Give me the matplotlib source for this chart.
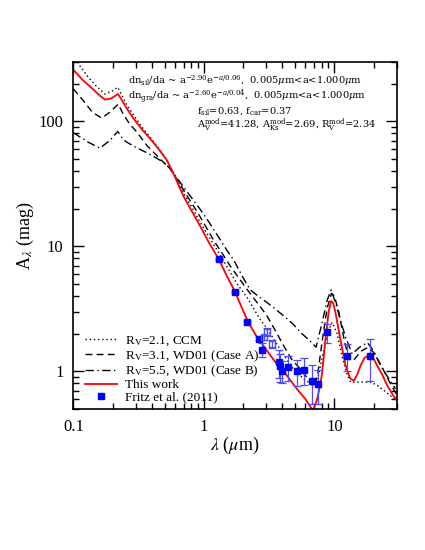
import matplotlib
matplotlib.use('Agg')
import matplotlib.pyplot as plt
from matplotlib.lines import Line2D
import numpy as np

plt.rcParams['font.family'] = ['Liberation Serif', 'DejaVu Serif']
plt.rcParams['mathtext.fontset'] = 'stix'

# This work (red)
lam_red = [0.100, 0.119, 0.142, 0.160, 0.175, 0.195, 0.210, 0.220, 0.235, 0.260, 0.290,
           0.330, 0.390, 0.450, 0.520, 0.600, 0.700, 0.800, 0.940, 1.10, 1.30, 1.50,
           1.74, 2.00, 2.20, 2.50, 3.05, 3.50, 4.09, 4.60, 5.18, 6.00, 6.56, 6.90,
           7.38, 7.80, 8.06, 8.55, 9.06, 9.45, 9.80, 10.2, 11.1, 12.2, 13.2, 14.1,
           15.0, 15.85, 17.0, 18.4, 19.8, 21.3, 23.5, 25.4, 28.0, 30.3]
a_red = [258, 212, 180, 160, 149, 152, 160, 165, 148, 124, 105,
         88, 72, 60, 49, 36, 25, 19.5, 14.4, 10.6, 7.9, 5.8,
         4.3, 3.05, 2.45, 1.95, 1.46, 1.20, 1.00, 0.85, 0.72, 0.60, 0.52, 0.49,
         0.60, 0.78, 0.98, 1.81, 3.04, 3.65, 3.50, 2.95, 1.81, 1.11, 0.88, 0.84,
         0.95, 1.11, 1.28, 1.35, 1.28, 1.11, 0.92, 0.77, 0.65, 0.58]

# Rv=2.1, CCM (dotted)
lam_ccm = [0.100, 0.112, 0.130, 0.151, 0.175, 0.200, 0.219, 0.235, 0.260, 0.290, 0.330,
           0.390, 0.450, 0.520, 0.600, 0.700, 0.800, 0.940, 1.10, 1.30, 1.50, 1.80,
           2.14, 2.40, 2.70, 3.05, 3.50, 4.00, 5.00, 6.00, 6.80, 7.50, 8.20, 9.00,
           9.60, 10.5, 11.5, 12.5, 13.3, 19.0, 21.0, 25.0, 30.0]
a_ccm = [340, 279, 225, 190, 165, 175, 187, 162, 132, 112, 92,
         74, 61, 49, 37, 26.5, 21, 15.5, 11.8, 8.9, 6.9, 5.0,
         3.9, 3.2, 2.6, 2.2, 1.75, 1.40, 1.00, 0.85, 0.78, 0.90, 1.40, 2.10,
         2.46, 2.00, 1.30, 0.95, 0.82, 0.82, 0.78, 0.68, 0.58]

# Rv=3.1, WD01 case A (dashed)
lam_wdA = [0.100, 0.120, 0.140, 0.165, 0.190, 0.221, 0.240, 0.270, 0.307, 0.366, 0.430,
           0.490, 0.550, 0.650, 0.750, 0.900, 1.05, 1.20, 1.40, 1.60, 2.00, 2.34,
           2.70, 3.05, 3.50, 4.09, 4.70, 5.50, 6.56, 6.90, 7.40, 8.10, 8.80, 9.50,
           10.0, 10.8, 12.0, 13.0, 14.0, 16.0, 18.0, 20.0, 23.0, 26.0, 30.0]
a_wdA = [182, 145, 118, 106, 118, 137, 115, 95, 82, 64, 54,
         47, 42, 32, 25, 18.5, 14, 11, 8.6, 6.9, 5.0, 4.0,
         3.3, 2.77, 2.15, 1.60, 1.25, 1.04, 0.82, 0.75, 0.90, 1.80, 3.2, 4.2,
         4.0, 3.0, 1.7, 1.25, 1.22, 1.45, 1.55, 1.42, 1.10, 0.85, 0.65]

# Rv=5.5, WD01 case B (dash-dot)
lam_wdB = [0.100, 0.130, 0.160, 0.190, 0.219, 0.240, 0.257, 0.300, 0.366, 0.430, 0.490,
           0.550, 0.650, 0.750, 0.930, 1.10, 1.30, 1.50, 1.69, 2.00, 2.26, 2.60,
           3.05, 3.60, 4.09, 4.80, 5.50, 6.50, 7.24, 8.06, 8.80, 9.45, 10.4, 11.2,
           12.2, 13.7, 15.5, 17.9, 20.0, 22.6, 26.0, 29.4]
a_wdB = [81, 68, 61, 70, 83, 72, 68, 62, 56, 51, 47,
         42, 33, 27, 20, 15.5, 11.8, 9.3, 7.8, 5.6, 4.5, 4.0,
         3.55, 3.1, 2.77, 2.4, 2.05, 1.75, 1.56, 2.46, 3.7, 4.47, 3.33, 2.5,
         1.87, 1.38, 1.55, 1.70, 1.45, 1.11, 0.88, 0.725]

# Fritz et al. (2011), filled
lam_fr = [1.30, 1.74, 2.16, 2.63, 2.79, 3.74, 3.86, 3.97, 4.39, 5.18, 5.90, 6.76, 7.52,
          8.81, 12.5, 18.9]
a_fr = [7.85, 4.30, 2.46, 1.83, 1.49, 1.19, 1.10, 1.01, 1.08, 1.00, 1.03, 0.84, 0.79,
        2.05, 1.33, 1.33]
e_fr = [0.15, 0.08, 0.07, 0.06, 0.18, 0.30, 0.28, 0.20, 0.25, 0.24, 0.25, 0.29, 0.24,
        0.35, 0.32, 0.50]
# open symbols
lam_fo = [2.87, 3.04, 3.30]
a_fo = [1.87, 2.07, 1.66]
e_fo = [0.10, 0.15, 0.12]

fig = plt.figure(figsize=(4.25, 5.5), dpi=100)
ax = fig.add_axes([0.1725, 0.2564, 0.7608, 0.6316])

l1, = ax.plot(lam_ccm, a_ccm, color='k', ls=(0, (1, 2)), lw=1.0)
l2, = ax.plot(lam_wdA, a_wdA, color='k', ls=(0, (5, 3)), lw=1.0)
l3, = ax.plot(lam_wdB, a_wdB, color='k', ls=(0, (6, 2.5, 1, 2.5)), lw=1.0)
l4, = ax.plot(lam_red, a_red, color='red', lw=1.3)

ax.errorbar(lam_fr, a_fr, yerr=e_fr, fmt='s', color='#0000ff', ms=4.5,
            ecolor='#4d4dff', elinewidth=0.9, capsize=3, capthick=0.9)
ax.errorbar(lam_fo, a_fo, yerr=e_fo, fmt='s', mfc='none', mec='#4d4dff', ms=5,
            ecolor='#4d4dff', elinewidth=0.9, capsize=3, capthick=0.9)
pt = Line2D([], [], ls='none', marker='s', color='#0000ff', ms=5)

ax.set_xscale('log')
ax.set_yscale('log')
ax.set_xlim(0.1, 30)
ax.set_ylim(0.5, 300)
ax.set_xticks([0.1, 1, 10])
ax.set_xticklabels(['0.1', '1', '10'])
ax.set_yticks([1, 10, 100])
ax.set_yticklabels(['1', '10', '100'])
ax.tick_params(which='both', direction='in', top=True, right=True, labelsize=12, width=1)
ax.tick_params(which='major', length=8, pad=7)
ax.tick_params(which='minor', length=4)
for s in ax.spines.values():
    s.set_linewidth(1.2)

ax.set_xlabel(r'$\lambda$ ($\mu$m)', fontsize=13, labelpad=0)
ax.set_ylabel(r'A$_\lambda$ (mag)', fontsize=13, labelpad=2)

fs = 7.1
tkw = dict(transform=ax.transAxes, fontsize=fs, va='center', ha='left',
           family='DejaVu Serif', math_fontfamily='dejavuserif')
ax.text(0.170, 0.946, r'dn$_{\rm sil}$/da ~ a$^{-2.90}$e$^{-a/0.06}$,  0.005$\mu$m<a<1.000$\mu$m', **tkw)
ax.text(0.170, 0.900, r'dn$_{\rm gra}$/da ~ a$^{-2.60}$e$^{-a/0.04}$,  0.005$\mu$m<a<1.000$\mu$m', **tkw)
ax.text(0.382, 0.859, r'f$_{\rm sil}$=0.63, f$_{\rm car}$=0.37', **tkw)
ax.text(0.382, 0.817, r'A$_{\rm V}^{\rm mod}$=41.28, A$_{\rm Ks}^{\rm mod}$=2.69, R$_{\rm V}^{\rm mod}$=2.34', **tkw)

ax.legend([l1, l2, l3, l4, pt],
          [r'R$_{\rm V}$=2.1, CCM', r'R$_{\rm V}$=3.1, WD01 (Case A)',
           r'R$_{\rm V}$=5.5, WD01 (Case B)', 'This work', 'Fritz et al. (2011)'],
          loc='lower left', bbox_to_anchor=(0.02, 0.0), frameon=False, fontsize=9.5,
          handlelength=2.4, handletextpad=0.6, labelspacing=0.0, borderaxespad=0.0)

fig.savefig('out.png', dpi=100)
